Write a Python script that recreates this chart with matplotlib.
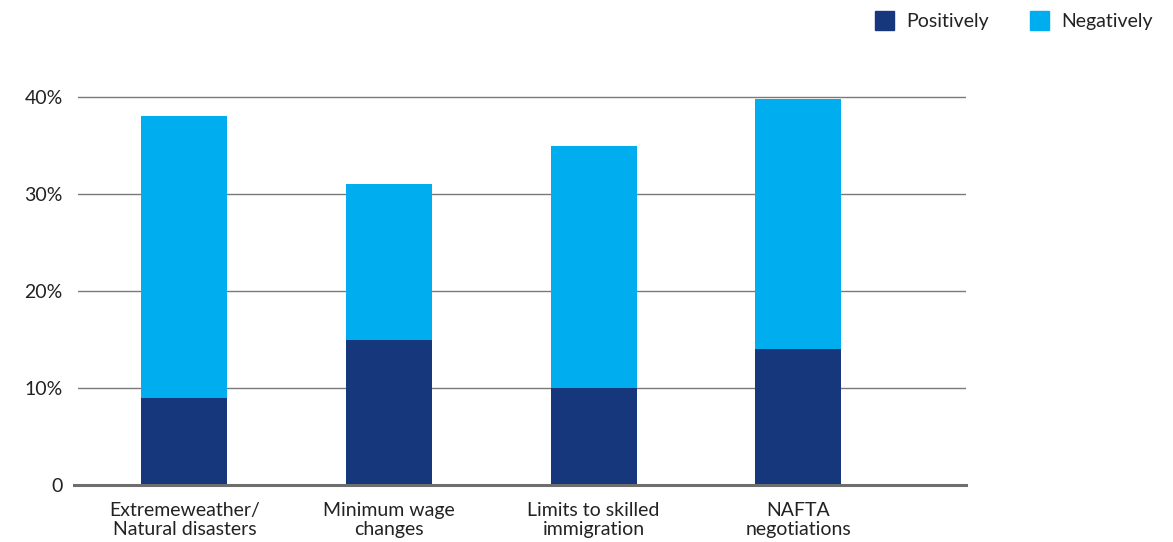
import matplotlib.pyplot as plt
from matplotlib.patches import Rectangle

categories = ["Extremeweather/\nNatural disasters", "Minimum wage\nchanges",
              "Limits to skilled\nimmigration", "NAFTA\nnegotiations"]
positively = [9, 15, 10, 14]
negatively = [29, 16, 25, 25.8]
yticks = [0, 10, 20, 30, 40]
ytick_labels = ["0", "10%", "20%", "30%", "40%"]

c_pos = "#17377c"
c_neg = "#00aeef"
plt.rcParams['font.family'] = ['Lato', 'DejaVu Sans']

fig = plt.figure(figsize=(11.73, 5.42), dpi=100)
ax = fig.add_axes([78 / 1173, 1 - 485 / 542, (966 - 78) / 1173, 388 / 542 * 1.08])
ax.set_ylim(0, 40 * 1.08)

x = list(range(len(categories)))
ax.bar(x, positively, width=0.42, color=c_pos, zorder=3)
ax.bar(x, negatively, bottom=positively, width=0.42, color=c_neg, zorder=3)
ax.set_xlim(-0.52, 3.82)

for t in yticks[1:]:
    ax.axhline(t, color="#7a7a7a", lw=1.0, zorder=1)
ax.axhline(0, color="#6e6e6e", lw=2.2, zorder=4, xmin=-0.004, clip_on=False)

for s in ax.spines.values():
    s.set_visible(False)
ax.set_yticks(yticks)
ax.set_yticklabels(ytick_labels, fontsize=14, color="#222222")
ax.tick_params(axis="y", length=0, pad=11)
ax.set_xticks(x)
ax.set_xticklabels(categories, fontsize=14, color="#222222", linespacing=1.15)
ax.tick_params(axis="x", length=0, pad=12)

# legend
for x0, col, lab in [(875, c_pos, "Positively"), (1030, c_neg, "Negatively")]:
    fig.patches.append(Rectangle((x0 / 1173, 1 - 30 / 542), 19 / 1173, 19 / 542,
                                 transform=fig.transFigure, color=col))
    fig.text((x0 + 31) / 1173, 1 - 21 / 542, lab, fontsize=14, color="#222222",
             va="center", ha="left")

fig.savefig("out.png", dpi=100)
